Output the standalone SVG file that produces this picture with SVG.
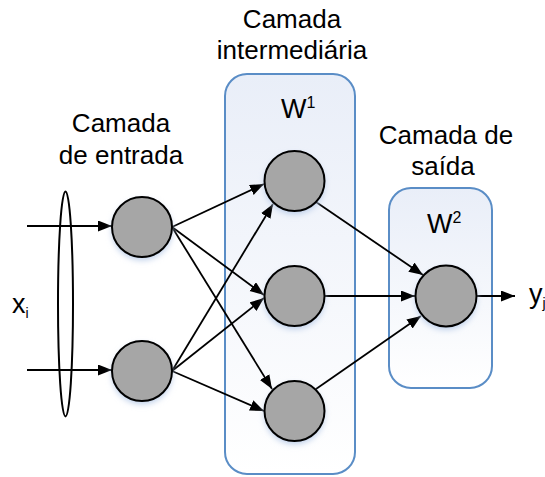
<svg xmlns="http://www.w3.org/2000/svg" width="545" height="477" viewBox="0 0 545 477">
  <defs>
    <linearGradient id="layerFill" x1="0" y1="0" x2="0" y2="1">
      <stop offset="0" stop-color="#e9eef8"/>
      <stop offset="1" stop-color="#ffffff"/>
    </linearGradient>
    <filter id="glow" x="-50%" y="-50%" width="200%" height="200%">
      <feGaussianBlur stdDeviation="3"/>
    </filter>
    <marker id="arrow" markerUnits="userSpaceOnUse" markerWidth="15" markerHeight="12" refX="14" refY="5.5" orient="auto">
      <path d="M0,0 L14,5.5 L0,11 Z" fill="#000"/>
    </marker>
    <style>
      .layer { fill: url(#layerFill); stroke: #5a8dc6; stroke-width: 2; }
      .neuron { fill: #a6a6a6; stroke: #000; stroke-width: 2; }
      .shadow { fill: #b9cce8; filter: url(#glow); }
      .label { font-family: "Liberation Sans", Arial, sans-serif; font-size: 26px; fill: #000; text-anchor: middle; }
      .sym { font-family: "Liberation Sans", Arial, sans-serif; font-size: 27px; fill: #000; }
      .edge { stroke: #000; stroke-width: 1.8; fill: none; marker-end: url(#arrow); }
    </style>
  </defs>

  <rect width="545" height="477" fill="#ffffff"/>

  <!-- layer boxes -->
  <g id="hidden-layer">
    <rect class="layer" x="225" y="74" width="130" height="400" rx="22"/>
    <text class="sym" x="281" y="118">W<tspan font-size="16" dy="-10">1</tspan></text>
  </g>
  <g id="output-layer">
    <rect class="layer" x="389" y="188" width="103" height="200" rx="22"/>
    <text class="sym" x="427" y="233">W<tspan font-size="16" dy="-10">2</tspan></text>
  </g>

  <!-- layer titles -->
  <g id="title-input">
    <text class="label" x="121" y="132">Camada</text>
    <text class="label" x="121" y="164">de entrada</text>
  </g>
  <g id="title-hidden">
    <text class="label" x="292" y="28">Camada</text>
    <text class="label" x="292" y="59">intermediária</text>
  </g>
  <g id="title-output">
    <text class="label" x="446" y="144">Camada de</text>
    <text class="label" x="443" y="175">saída</text>
  </g>

  <!-- input group -->
  <g id="input-bundle">
    <ellipse cx="65.5" cy="304" rx="7.5" ry="112.5" fill="none" stroke="#000" stroke-width="2"/>
    <text class="sym" x="12" y="313" font-size="23">x<tspan font-size="14" dy="5">i</tspan></text>
  </g>

  <!-- connectors -->
  <g id="connectors">
    <line class="edge" x1="27" y1="226" x2="112" y2="226"/>
    <line class="edge" x1="27" y1="370" x2="112" y2="370"/>

    <line class="edge" x1="172" y1="227" x2="264" y2="184"/>
    <line class="edge" x1="172" y1="227" x2="264" y2="295"/>
    <line class="edge" x1="172" y1="227" x2="272" y2="389"/>
    <line class="edge" x1="172" y1="371" x2="273" y2="204"/>
    <line class="edge" x1="172" y1="371" x2="264" y2="298"/>
    <line class="edge" x1="172" y1="371" x2="264" y2="411"/>

    <line class="edge" x1="316" y1="202" x2="423" y2="275"/>
    <line class="edge" x1="325" y1="296" x2="415" y2="296"/>
    <line class="edge" x1="316" y1="389" x2="421" y2="316"/>

    <line class="edge" x1="477" y1="296" x2="515" y2="296"/>
  </g>

  <!-- neurons -->
  <g id="in-1">
    <circle class="shadow" cx="142" cy="230" r="30"/>
    <circle class="neuron" cx="142" cy="227" r="30"/>
  </g>
  <g id="in-2">
    <circle class="shadow" cx="142" cy="374" r="30"/>
    <circle class="neuron" cx="142" cy="371" r="30"/>
  </g>
  <g id="hid-1">
    <circle class="shadow" cx="294.5" cy="184" r="30"/>
    <circle class="neuron" cx="294.5" cy="181" r="30"/>
  </g>
  <g id="hid-2">
    <circle class="shadow" cx="294.5" cy="299" r="30"/>
    <circle class="neuron" cx="294.5" cy="296" r="30"/>
  </g>
  <g id="hid-3">
    <circle class="shadow" cx="294.5" cy="414" r="30"/>
    <circle class="neuron" cx="294.5" cy="411" r="30"/>
  </g>
  <g id="out-1">
    <circle class="shadow" cx="446" cy="299" r="30.5"/>
    <circle class="neuron" cx="446" cy="296" r="30.5"/>
  </g>

  <g id="output-symbol">
    <text class="sym" x="529" y="303" font-size="23">y<tspan font-size="14" dy="5">j</tspan></text>
  </g>
</svg>
